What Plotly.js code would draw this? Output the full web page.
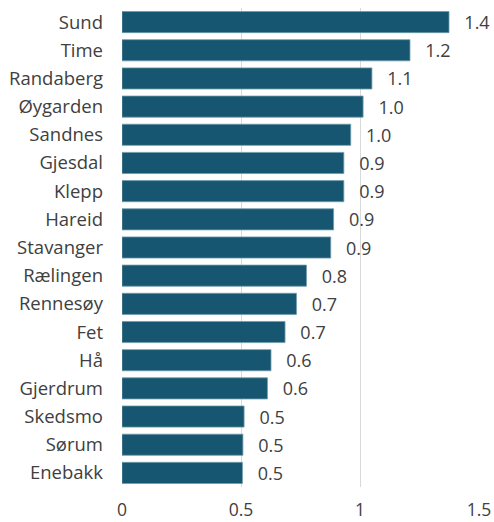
<!DOCTYPE html>
<html>
<head>
<meta charset="utf-8">
<script src="https://cdn.plot.ly/plotly-3.0.1.min.js"></script>
<style>html,body{margin:0;padding:0;background:#fff}#chart{width:494px;height:522px}</style>
</head>
<body>
<div id="chart"></div>
<script>
const categories = ["Sund","Time","Randaberg","Øygarden","Sandnes","Gjesdal","Klepp","Hareid","Stavanger","Rælingen","Rennesøy","Fet","Hå","Gjerdrum","Skedsmo","Sørum","Enebakk"];
const values = [1.374,1.210,1.050,1.013,0.961,0.932,0.932,0.889,0.877,0.775,0.733,0.685,0.626,0.611,0.513,0.508,0.506];
const tickVals = [0,0.5,1,1.5];
const tickText = ["0","0.5","1","1.5"];

const FONT = "Open Sans, Lato, sans-serif";
const trace = {
  type: "bar",
  orientation: "h",
  y: categories,
  x: values,
  marker: {color: "#165670", line: {color: "#6f9aab", width: 0.8}},
  text: values.map(v => "\u00a0\u00a0\u2009" + v.toFixed(1)),
  textposition: "outside",
  constraintext: "none",
  cliponaxis: false,
  textfont: {family: FONT, size: 18, color: "#404040"},
  hoverinfo: "none"
};
const layout = {
  width: 494, height: 522,
  margin: {l: 122, r: 15, t: 8, b: 35},
  paper_bgcolor: "#fff", plot_bgcolor: "#fff",
  showlegend: false,
  bargap: 0.25,
  font: {family: FONT, size: 17, color: "#404040"},
  xaxis: {
    range: [0, 1.5], tickvals: tickVals, ticktext: tickText,
    showgrid: true, gridcolor: "#d9d9d9", gridwidth: 1,
    zeroline: false, showline: false, ticks: "",
    ticklabelstandoff: 10,
    tickfont: {family: FONT, size: 17.5, color: "#404040"}
  },
  yaxis: {
    autorange: "reversed", type: "category",
    showgrid: false, zeroline: false, showline: false, ticks: "",
    ticklabelstandoff: 18,
    tickfont: {family: FONT, size: 18.5, color: "#404040"}
  }
};
Plotly.newPlot("chart", [trace], layout, {displayModeBar: false, staticPlot: true});
</script>
</body>
</html>
